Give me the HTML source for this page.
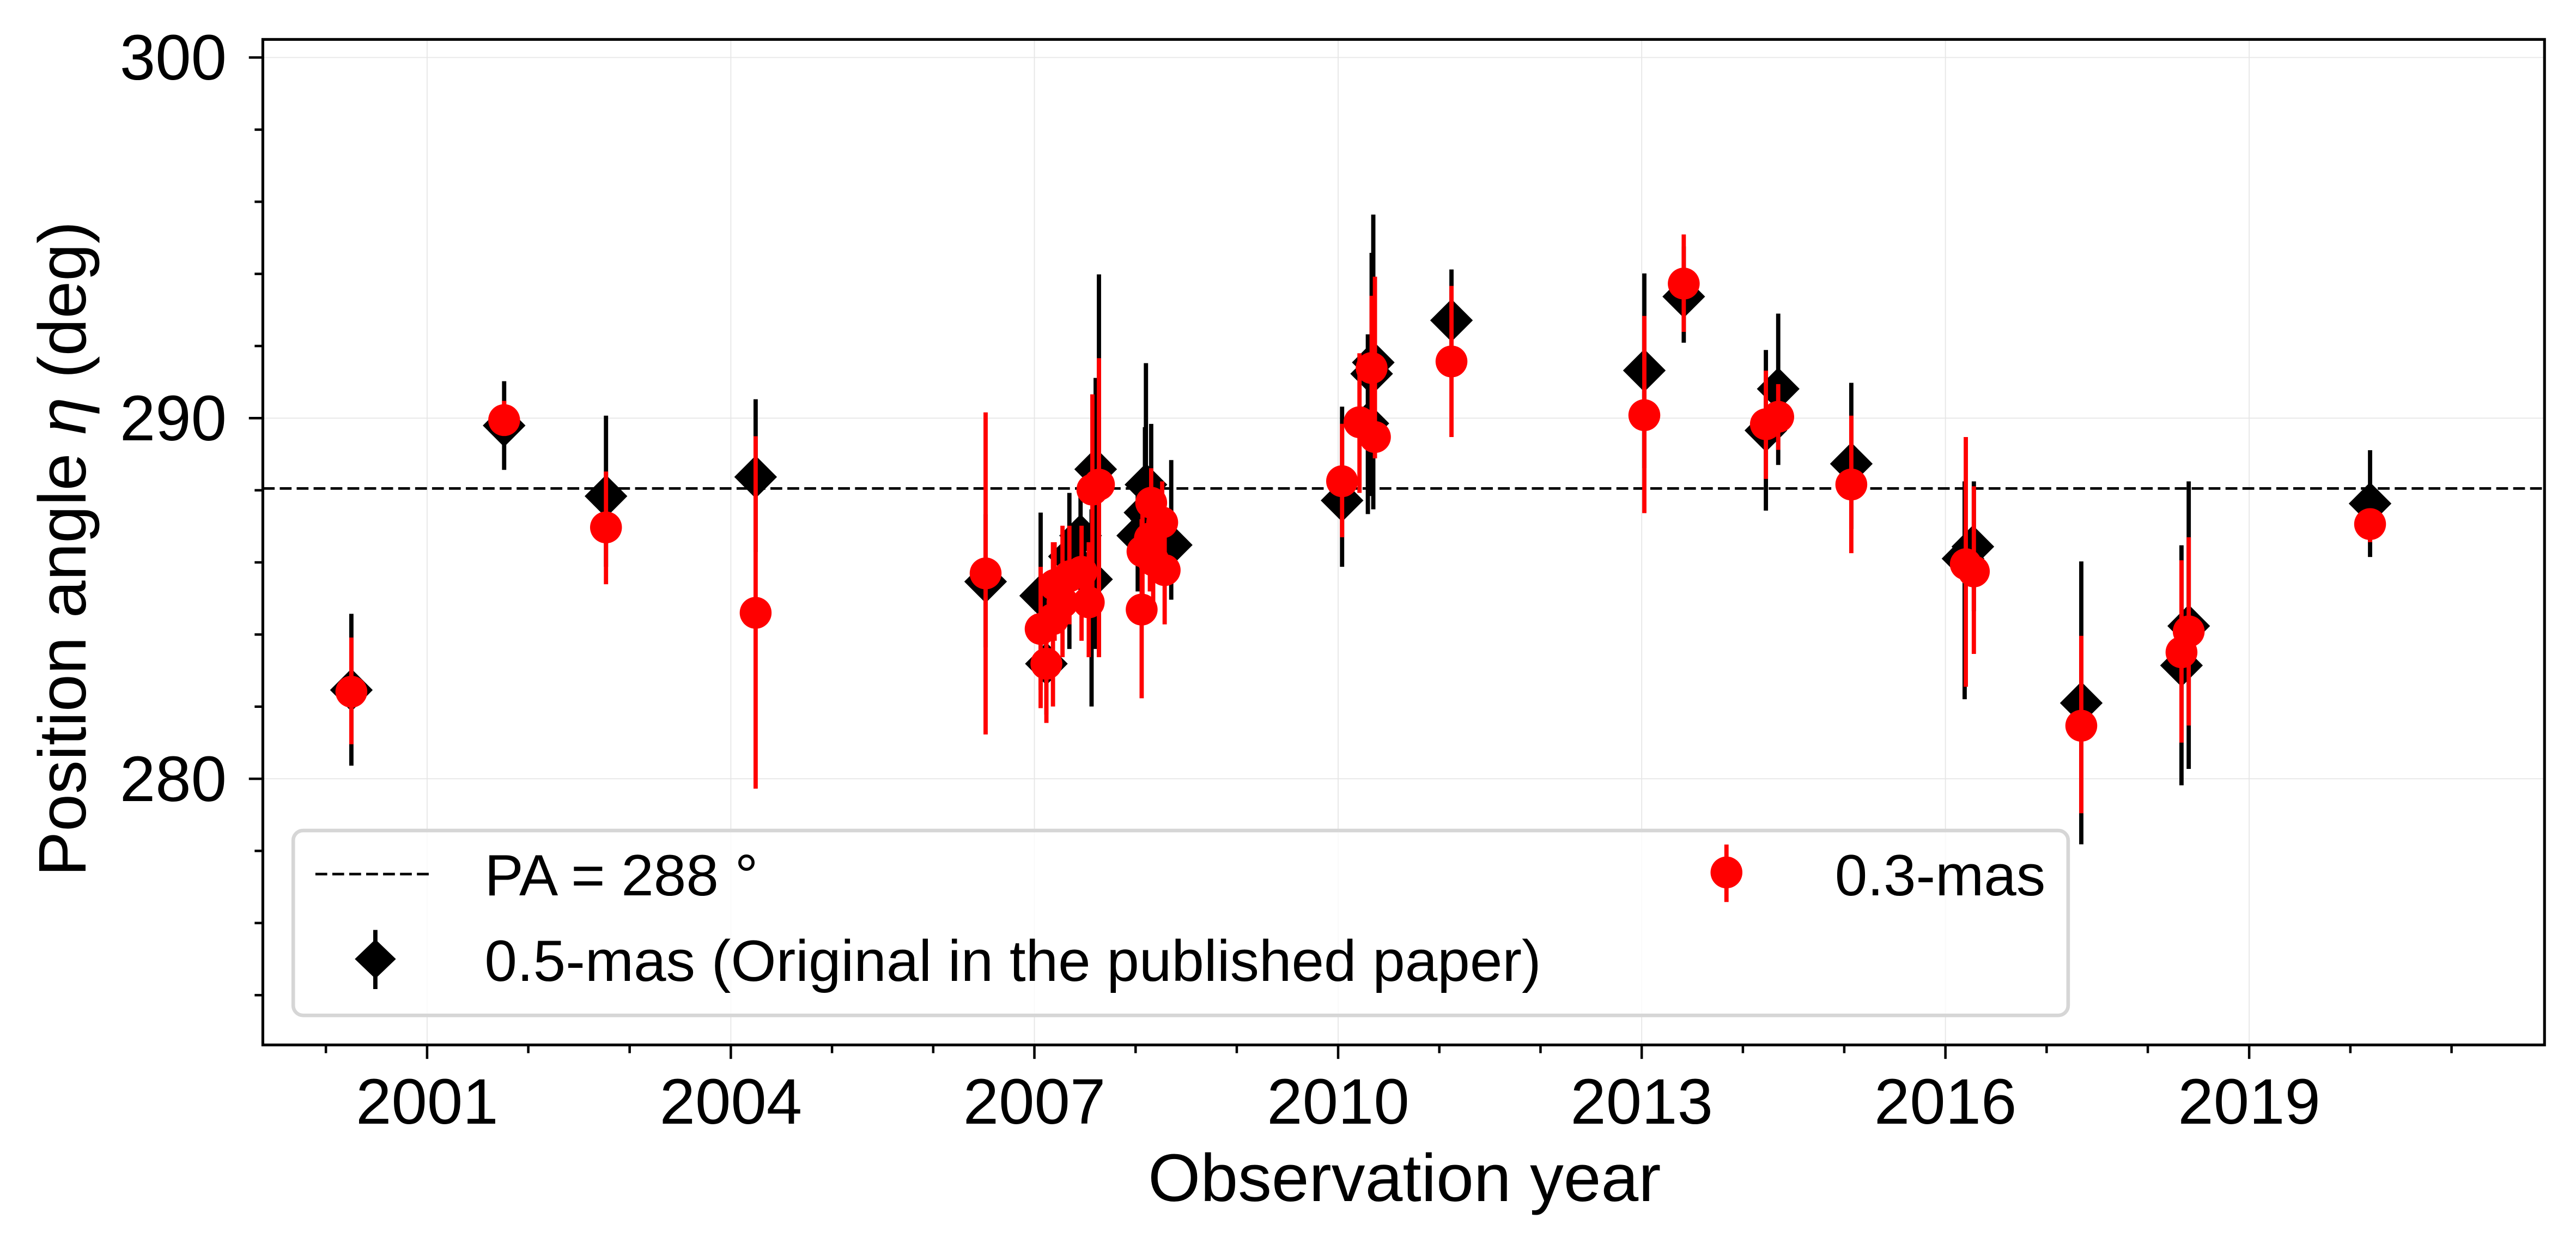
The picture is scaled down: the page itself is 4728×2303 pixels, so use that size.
<!DOCTYPE html>
<html><head><meta charset="utf-8"><style>html,body{margin:0;padding:0;background:#fff}svg{display:block}</style></head><body>
<svg width="4728" height="2303" viewBox="0 0 1568.16 763.85" preserveAspectRatio="none" xmlns="http://www.w3.org/2000/svg" font-family="Liberation Sans, Arial, sans-serif">
<rect width="1568.16" height="763.85" fill="#fff"/>
<!-- grid -->
<g stroke="#e6e6e6" stroke-width="0.6">
<line x1="260" y1="24" x2="260" y2="636"/><line x1="444.9" y1="24" x2="444.9" y2="636"/><line x1="629.7" y1="24" x2="629.7" y2="636"/><line x1="814.6" y1="24" x2="814.6" y2="636"/><line x1="999.4" y1="24" x2="999.4" y2="636"/><line x1="1184.3" y1="24" x2="1184.3" y2="636"/><line x1="1369.2" y1="24" x2="1369.2" y2="636"/>
<line x1="160" y1="35" x2="1549" y2="35"/><line x1="160" y1="254.5" x2="1549" y2="254.5"/><line x1="160" y1="474" x2="1549" y2="474"/>
</g>
<line x1="160" y1="297.3" x2="1549" y2="297.3" stroke="#000" stroke-width="1.6" stroke-dasharray="7.2 3.1"/>
<!-- black errorbars -->
<g stroke="#000" stroke-width="2.6">
<line x1="213.9" y1="373.6" x2="213.9" y2="466"/><line x1="306.9" y1="232" x2="306.9" y2="286"/><line x1="368.9" y1="253" x2="368.9" y2="345"/><line x1="460" y1="243" x2="460" y2="336"/>
<line x1="600" y1="313" x2="600" y2="394"/><line x1="633.5" y1="312" x2="633.5" y2="420"/><line x1="637" y1="375" x2="637" y2="435"/><line x1="651" y1="300" x2="651" y2="395"/><line x1="657.8" y1="300" x2="657.8" y2="372"/><line x1="664.5" y1="310" x2="664.5" y2="430"/><line x1="667" y1="230" x2="667" y2="395"/><line x1="669" y1="167" x2="669" y2="400"/>
<line x1="697.6" y1="221" x2="697.6" y2="330"/><line x1="697" y1="260" x2="697" y2="345"/><line x1="700.8" y1="258" x2="700.8" y2="350"/><line x1="692.6" y1="290" x2="692.6" y2="360"/><line x1="713" y1="280" x2="713" y2="365"/>
<line x1="817" y1="247.5" x2="817" y2="345"/><line x1="832.7" y1="203.5" x2="832.7" y2="312.9"/><line x1="836" y1="130.6" x2="836" y2="310"/><line x1="835" y1="153.9" x2="835" y2="301.9"/><line x1="883.6" y1="164" x2="883.6" y2="230"/>
<line x1="1001" y1="166.4" x2="1001" y2="284.9"/><line x1="1025" y1="150" x2="1025" y2="208.6"/><line x1="1075" y1="213" x2="1075" y2="310.8"/><line x1="1082.5" y1="190.9" x2="1082.5" y2="283"/><line x1="1127" y1="233" x2="1127" y2="322"/><line x1="1196" y1="293" x2="1196" y2="425.6"/><line x1="1201.6" y1="293" x2="1201.6" y2="372"/><line x1="1267" y1="341.7" x2="1267" y2="513.9"/><line x1="1328" y1="331.9" x2="1328" y2="478"/><line x1="1332.4" y1="293" x2="1332.4" y2="468"/><line x1="1442.8" y1="274" x2="1442.8" y2="339"/>
</g>
<!-- black diamonds -->
<g fill="#000">
<path d="M213.9 407l13 13-13 13-13-13z"/><path d="M306.9 246l13 13-13 13-13-13z"/><path d="M368.9 289l13 13-13 13-13-13z"/><path d="M460 277.3l13 13-13 13-13-13z"/>
<path d="M600 341l13 13-13 13-13-13z"/><path d="M633.5 349.6l13 13-13 13-13-13z"/><path d="M637 391l13 13-13 13-13-13z"/><path d="M651 325.7l13 13-13 13-13-13z"/><path d="M657.8 313l13 13-13 13-13-13z"/><path d="M664.5 339.6l13 13-13 13-13-13z"/><path d="M667 272.6l13 13-13 13-13-13z"/>
<path d="M697.6 282l13 13-13 13-13-13z"/><path d="M697 299l13 13-13 13-13-13z"/><path d="M700.8 303l13 13-13 13-13-13z"/><path d="M692.6 313l13 13-13 13-13-13z"/><path d="M713 318.7l13 13-13 13-13-13z"/>
<path d="M817 291.6l13 13-13 13-13-13z"/><path d="M832.7 244.7l13 13-13 13-13-13z"/><path d="M836 207.6l13 13-13 13-13-13z"/><path d="M835 214.5l13 13-13 13-13-13z"/><path d="M883.6 182l13 13-13 13-13-13z"/>
<path d="M1001 212.5l13 13-13 13-13-13z"/><path d="M1025 167.5l13 13-13 13-13-13z"/><path d="M1075 249l13 13-13 13-13-13z"/><path d="M1082.5 223.7l13 13-13 13-13-13z"/><path d="M1127 269.3l13 13-13 13-13-13z"/><path d="M1195 327l13 13-13 13-13-13z"/><path d="M1201 319.7l13 13-13 13-13-13z"/><path d="M1267 414.9l13 13-13 13-13-13z"/><path d="M1328 392l13 13-13 13-13-13z"/><path d="M1332.4 368l13 13-13 13-13-13z"/><path d="M1442.8 293.5l13 13-13 13-13-13z"/>
</g>
<!-- red errorbars -->
<g stroke="#ff0000" stroke-width="2.6">
<line x1="213.9" y1="388" x2="213.9" y2="453"/><line x1="306.9" y1="244" x2="306.9" y2="265"/><line x1="368.9" y1="287" x2="368.9" y2="355.6"/><line x1="460" y1="265.5" x2="460" y2="480"/>
<line x1="600" y1="251" x2="600" y2="447"/><line x1="633.5" y1="345" x2="633.5" y2="431"/><line x1="637" y1="380" x2="637" y2="440"/><line x1="641" y1="330" x2="641" y2="430"/><line x1="642" y1="330" x2="642" y2="390"/><line x1="646.8" y1="320" x2="646.8" y2="400"/><line x1="651" y1="320" x2="651" y2="380"/><line x1="658.4" y1="320" x2="658.4" y2="390"/><line x1="662.8" y1="330" x2="662.8" y2="400"/><line x1="665" y1="240" x2="665" y2="375"/><line x1="669" y1="218" x2="669" y2="400"/>
<line x1="700.8" y1="285" x2="700.8" y2="335"/><line x1="707.5" y1="293" x2="707.5" y2="350"/><line x1="700" y1="300" x2="700" y2="360"/><line x1="695.5" y1="300" x2="695.5" y2="380"/><line x1="702" y1="310" x2="702" y2="370"/><line x1="709" y1="315" x2="709" y2="380"/><line x1="695" y1="316" x2="695" y2="425"/>
<line x1="817" y1="257.9" x2="817" y2="327"/><line x1="827.6" y1="215" x2="827.6" y2="300"/><line x1="837" y1="168.4" x2="837" y2="279"/><line x1="835" y1="180" x2="835" y2="275"/><line x1="883.6" y1="174" x2="883.6" y2="266"/>
<line x1="1001" y1="192.3" x2="1001" y2="312.3"/><line x1="1025" y1="142.7" x2="1025" y2="202"/><line x1="1075" y1="225.6" x2="1075" y2="291.5"/><line x1="1082.5" y1="233.8" x2="1082.5" y2="273.8"/><line x1="1127" y1="253" x2="1127" y2="336.7"/><line x1="1196.7" y1="266" x2="1196.7" y2="418"/><line x1="1201.6" y1="296" x2="1201.6" y2="398"/><line x1="1267" y1="387" x2="1267" y2="495"/><line x1="1328" y1="341" x2="1328" y2="452"/><line x1="1332.4" y1="327" x2="1332.4" y2="441.6"/><line x1="1442.8" y1="310" x2="1442.8" y2="330"/>
</g>
<!-- red circles -->
<g fill="#ff0000">
<circle cx="213.9" cy="421" r="9.7"/><circle cx="306.9" cy="255.7" r="9.7"/><circle cx="368.9" cy="321" r="9.7"/><circle cx="460" cy="373" r="9.7"/>
<circle cx="600" cy="349" r="9.7"/><circle cx="633.5" cy="382.8" r="9.7"/><circle cx="637" cy="404" r="9.7"/><circle cx="641" cy="376.8" r="9.7"/><circle cx="642" cy="356" r="9.7"/><circle cx="646.8" cy="366.6" r="9.7"/><circle cx="651" cy="350.7" r="9.7"/><circle cx="658.4" cy="348" r="9.7"/><circle cx="662.8" cy="366.6" r="9.7"/><circle cx="665" cy="298" r="9.7"/><circle cx="669" cy="295" r="9.7"/>
<circle cx="700.8" cy="306" r="9.7"/><circle cx="707.5" cy="318" r="9.7"/><circle cx="700" cy="327.7" r="9.7"/><circle cx="695.5" cy="335.6" r="9.7"/><circle cx="702" cy="341" r="9.7"/><circle cx="709" cy="347" r="9.7"/><circle cx="695" cy="371" r="9.7"/>
<circle cx="817" cy="292.9" r="9.7"/><circle cx="827.6" cy="257" r="9.7"/><circle cx="837" cy="266" r="9.7"/><circle cx="835" cy="224" r="9.7"/><circle cx="883.6" cy="220" r="9.7"/>
<circle cx="1001" cy="252.7" r="9.7"/><circle cx="1025" cy="172.6" r="9.7"/><circle cx="1075" cy="258.2" r="9.7"/><circle cx="1082.5" cy="253.7" r="9.7"/><circle cx="1127" cy="294.9" r="9.7"/><circle cx="1196.7" cy="343.4" r="9.7"/><circle cx="1201.6" cy="347.8" r="9.7"/><circle cx="1267" cy="441.7" r="9.7"/><circle cx="1328" cy="397" r="9.7"/><circle cx="1332.4" cy="384.3" r="9.7"/><circle cx="1442.8" cy="319" r="9.7"/>
</g>
<!-- legend -->
<rect x="178.5" y="505.5" width="1080.5" height="112.5" rx="6" fill="#fff" fill-opacity="0.8" stroke="#d6d6d6" stroke-width="2.2"/>
<line x1="192" y1="532" x2="261" y2="532" stroke="#000" stroke-width="1.6" stroke-dasharray="7.2 3.1"/>
<line x1="228.5" y1="566" x2="228.5" y2="602" stroke="#000" stroke-width="2.6"/>
<path d="M228.5 571.7l12.5 12-12.5 12-12.5-12z" fill="#000"/>
<line x1="1051" y1="514" x2="1051" y2="549" stroke="#ff0000" stroke-width="2.6"/>
<circle cx="1051" cy="531" r="9.7" fill="#ff0000"/>
<g font-size="35.5" fill="#000">
<text x="295" y="545">PA = 288 °</text>
<text x="295" y="597">0.5-mas (Original in the published paper)</text>
<text x="1117" y="545">0.3-mas</text>
</g>
<!-- frame -->
<rect x="160" y="24" width="1389" height="612" fill="none" stroke="#000" stroke-width="1.7"/>
<!-- ticks -->
<g stroke="#000" stroke-width="1.5">
<line x1="151.5" y1="35" x2="160" y2="35"/><line x1="151.5" y1="254.5" x2="160" y2="254.5"/><line x1="151.5" y1="474" x2="160" y2="474"/>
<line x1="155" y1="78.9" x2="160" y2="78.9"/><line x1="155" y1="122.8" x2="160" y2="122.8"/><line x1="155" y1="166.7" x2="160" y2="166.7"/><line x1="155" y1="210.6" x2="160" y2="210.6"/><line x1="155" y1="298.4" x2="160" y2="298.4"/><line x1="155" y1="342.3" x2="160" y2="342.3"/><line x1="155" y1="386.2" x2="160" y2="386.2"/><line x1="155" y1="430.1" x2="160" y2="430.1"/><line x1="155" y1="517.9" x2="160" y2="517.9"/><line x1="155" y1="561.8" x2="160" y2="561.8"/><line x1="155" y1="605.7" x2="160" y2="605.7"/>
<line x1="260" y1="636" x2="260" y2="644.5"/><line x1="444.9" y1="636" x2="444.9" y2="644.5"/><line x1="629.7" y1="636" x2="629.7" y2="644.5"/><line x1="814.6" y1="636" x2="814.6" y2="644.5"/><line x1="999.4" y1="636" x2="999.4" y2="644.5"/><line x1="1184.3" y1="636" x2="1184.3" y2="644.5"/><line x1="1369.2" y1="636" x2="1369.2" y2="644.5"/>
<line x1="198.4" y1="636" x2="198.4" y2="641"/><line x1="321.6" y1="636" x2="321.6" y2="641"/><line x1="383.3" y1="636" x2="383.3" y2="641"/><line x1="506.5" y1="636" x2="506.5" y2="641"/><line x1="568.1" y1="636" x2="568.1" y2="641"/><line x1="691.3" y1="636" x2="691.3" y2="641"/><line x1="752.9" y1="636" x2="752.9" y2="641"/><line x1="876.2" y1="636" x2="876.2" y2="641"/><line x1="937.8" y1="636" x2="937.8" y2="641"/><line x1="1061" y1="636" x2="1061" y2="641"/><line x1="1122.7" y1="636" x2="1122.7" y2="641"/><line x1="1245.9" y1="636" x2="1245.9" y2="641"/><line x1="1307.5" y1="636" x2="1307.5" y2="641"/><line x1="1430.8" y1="636" x2="1430.8" y2="641"/><line x1="1492.4" y1="636" x2="1492.4" y2="641"/>
</g>
<g font-size="39" fill="#000">
<text x="138" y="48.5" text-anchor="end">300</text>
<text x="138" y="268" text-anchor="end">290</text>
<text x="138" y="487.5" text-anchor="end">280</text>
<g text-anchor="middle">
<text x="260" y="684">2001</text><text x="444.9" y="684">2004</text><text x="629.7" y="684">2007</text><text x="814.6" y="684">2010</text><text x="999.4" y="684">2013</text><text x="1184.3" y="684">2016</text><text x="1369.2" y="684">2019</text>
</g>
</g>
<text x="855" y="731" font-size="41" text-anchor="middle" fill="#000">Observation year</text>
<text transform="translate(52,334) rotate(-90)" font-size="41" text-anchor="middle" fill="#000">Position angle <tspan font-style="italic">η</tspan> (deg)</text>
</svg>
</body></html>
